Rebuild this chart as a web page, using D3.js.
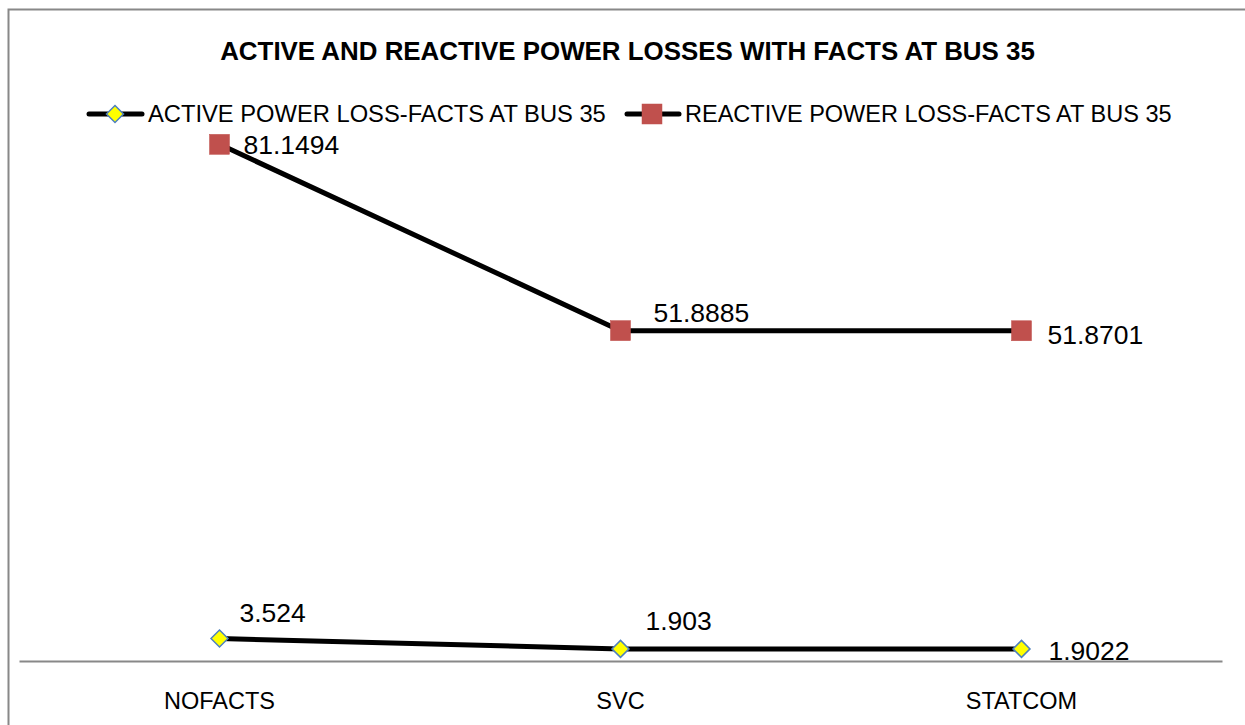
<!DOCTYPE html>
<html><head><meta charset="utf-8">
<script src="https://cdn.jsdelivr.net/npm/d3@7"></script>
<style>body{margin:0;background:#fff}svg{display:block}text{font-family:"Liberation Sans",Arial,sans-serif}</style>
</head><body><svg id="c" width="1245" height="725"></svg>
<script>
const categories = ["NOFACTS", "SVC", "STATCOM"];
const activeLoss = [3.524, 1.903, 1.9022];
const reactiveLoss = [81.1494, 51.8885, 51.8701];
const activeLabels = ["3.524", "1.903", "1.9022"];
const reactiveLabels = ["81.1494", "51.8885", "51.8701"];
const seriesNames = ["ACTIVE POWER LOSS-FACTS AT BUS 35", "REACTIVE POWER LOSS-FACTS AT BUS 35"];
const title = "ACTIVE AND REACTIVE POWER LOSSES WITH FACTS AT BUS 35";

const svg = d3.select("#c");
svg.append("rect").attr("x",8.5).attr("y",9.5).attr("width",1250).attr("height",730)
  .attr("fill","#fff").attr("stroke","#888").attr("stroke-width",2);

// scale font so that the text reaches a target width
function fit(sel, w){
  sel.attr("font-size",20);
  const l = sel.node().getComputedTextLength();
  sel.attr("font-size", 20*w/l);
  return sel;
}

const x = d3.scaleBand().domain(categories).range([19,1222]);
const y = d3.scaleLinear().domain([0,90]).range([661,88]);
const cx = d => x(d)+x.bandwidth()/2;

fit(svg.append("text").attr("x",627.5).attr("y",60).attr("text-anchor","middle")
  .attr("font-weight","bold").text(title), 815);

// axis
const ax = svg.append("g").attr("transform","translate(0,661)")
  .call(d3.axisBottom(x).tickSize(0).tickPadding(0));
ax.select(".domain").attr("stroke","#888").attr("stroke-width",2);
ax.selectAll(".tick text").attr("fill","#000").attr("font-family","'Liberation Sans',Arial,sans-serif")
  .attr("font-size",23.5).attr("dy",null).attr("y",47.5);

const line = d3.line().x((d,i)=>cx(categories[i])).y(d=>y(d));
svg.append("path").datum(reactiveLoss).attr("d",line).attr("fill","none").attr("stroke","#000").attr("stroke-width",5);
svg.append("path").datum(activeLoss).attr("d",line).attr("fill","none").attr("stroke","#000").attr("stroke-width",5);

function square(g, px, py){ g.append("rect").attr("x",px-10).attr("y",py-10).attr("width",20).attr("height",20).attr("fill","#C0504D").attr("stroke","#C0504D").attr("stroke-width",0.5); }
function diamond(g, px, py){ g.append("path").attr("d",`M${px},${py-8.5}L${px+8.5},${py}L${px},${py+8.5}L${px-8.5},${py}Z`).attr("fill","#FFFF00").attr("stroke","#4F81BD").attr("stroke-width",1.5); }

reactiveLoss.forEach((v,i)=>square(svg, cx(categories[i]), y(v)));
activeLoss.forEach((v,i)=>diamond(svg, cx(categories[i]), y(v)));

const labelSize = 26.5;
const rOff = [[24,0],[33,-18],[26,4]];
reactiveLoss.forEach((v,i)=>{
  svg.append("text").attr("x",cx(categories[i])+rOff[i][0]).attr("y",y(v)+rOff[i][1]).attr("dy","0.35em")
    .attr("font-size",labelSize).text(reactiveLabels[i]);
});
const aOff = [[20,-25.5],[25,-28],[27,2]];
activeLoss.forEach((v,i)=>{
  svg.append("text").attr("x",cx(categories[i])+aOff[i][0]).attr("y",y(v)+aOff[i][1]).attr("dy","0.35em")
    .attr("font-size",labelSize).text(activeLabels[i]);
});

// legend
const lg = svg.append("g");
const ly = 114;
lg.append("line").attr("x1",89).attr("x2",142).attr("y1",ly).attr("y2",ly).attr("stroke","#000").attr("stroke-width",5).attr("stroke-linecap","round");
diamond(lg,115,ly);
fit(lg.append("text").attr("x",148).attr("y",ly).attr("dy","0.35em").text(seriesNames[0]), 458);
lg.append("line").attr("x1",627).attr("x2",679).attr("y1",ly).attr("y2",ly).attr("stroke","#000").attr("stroke-width",5).attr("stroke-linecap","round");
square(lg,652,ly);
fit(lg.append("text").attr("x",685).attr("y",ly).attr("dy","0.35em").text(seriesNames[1]), 487);
</script></body></html>
